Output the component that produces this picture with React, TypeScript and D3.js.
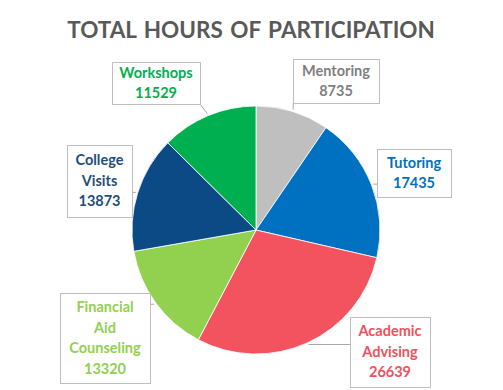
import * as d3 from "d3";
import { useEffect, useRef } from "react";

const categories = ["Mentoring", "Tutoring", "Academic Advising", "Financial Aid Counseling", "College Visits", "Workshops"];
const hours = [8735, 17435, 26639, 13320, 13873, 11529];
const labelLines = [["Mentoring"], ["Tutoring"], ["Academic", "Advising"], ["Financial", "Aid", "Counseling"], ["College", "Visits"], ["Workshops"]];
const sliceColors = ["#bfbfbf", "#0070c0", "#f2535f", "#92d050", "#0c4a86", "#00b050"];
const textColors = ["#7f7f7f", "#0070c0", "#f0505c", "#92d050", "#1f4e79", "#00b050"];

// label box placement (x, y, w, h) by slice index
const boxes = [
  { x: 293, y: 59, w: 86, h: 44 },
  { x: 377, y: 149, w: 74, h: 48 },
  { x: 350, y: 317, w: 80, h: 70 },
  { x: 60, y: 293, w: 90, h: 90 },
  { x: 67, y: 145, w: 65, h: 72 },
  { x: 112, y: 62, w: 88, h: 42 }
];

export default function App() {
  const ref = useRef<SVGSVGElement | null>(null);

  useEffect(() => {
    if (!ref.current) return;
    const width = 503;
    const height = 390;
    const cx = 256;
    const cy = 230;
    const radius = 124;
    const svg = d3.select(ref.current);
    svg.selectAll("*").remove();
    svg.attr("viewBox", `0 0 ${width} ${height}`);

    svg.append("rect").attr("width", width).attr("height", height).attr("fill", "#fff");

    svg
      .append("text")
      .attr("x", 251)
      .attr("y", 38)
      .attr("text-anchor", "middle")
      .attr("font-family", "Lato, 'Open Sans', sans-serif")
      .attr("font-weight", "bold")
      .attr("font-size", 22.5)
      .attr("word-spacing", 2)
      .attr("fill", "#595959")
      .text("TOTAL HOURS OF PARTICIPATION");

    const pie = d3.pie<number>().sort(null).value((d) => d);
    const arcs = pie(hours);
    const arc = d3.arc<d3.PieArcDatum<number>>().innerRadius(0).outerRadius(radius);
    const root = svg.append("g").attr("transform", `translate(${cx}, ${cy})`);

    root
      .selectAll("path")
      .data(arcs)
      .join("path")
      .attr("d", arc)
      .attr("fill", (_, i) => sliceColors[i])
      .attr("stroke", "#fff")
      .attr("stroke-width", 0.8);

    // leader lines
    arcs.forEach((a, i) => {
      const mid = (a.startAngle + a.endAngle) / 2;
      const px = cx + Math.sin(mid) * (radius + 2);
      const py = cy - Math.cos(mid) * (radius + 2);
      const b = boxes[i];
      const bx = Math.max(b.x, Math.min(b.x + b.w, px));
      const by = Math.max(b.y, Math.min(b.y + b.h, py));
      svg
        .append("line")
        .attr("x1", px)
        .attr("y1", py)
        .attr("x2", bx)
        .attr("y2", by)
        .attr("stroke", "#a6a6a6")
        .attr("stroke-width", 1);
    });

    categories.forEach((name, i) => {
      const b = boxes[i];
      const g = svg.append("g").attr("aria-label", name);
      g.append("rect")
        .attr("x", b.x + 0.5)
        .attr("y", b.y + 0.5)
        .attr("width", b.w)
        .attr("height", b.h)
        .attr("fill", "#fff")
        .attr("stroke", "#bfbfbf");
      const lines = [...labelLines[i], String(hours[i])];
      const lh = 20.5;
      const top = b.y + b.h / 2 - (lines.length * lh) / 2;
      lines.forEach((ln, j) => {
        g.append("text")
          .attr("x", b.x + b.w / 2)
          .attr("y", top + j * lh + 15)
          .attr("text-anchor", "middle")
          .attr("font-family", "Lato, 'Open Sans', sans-serif")
          .attr("font-weight", "bold")
          .attr("font-size", 14.5)
          .attr("fill", textColors[i])
          .text(ln);
      });
    });
  }, []);

  return (
    <svg
      ref={ref}
      width={503}
      height={390}
      style={{ position: "absolute", left: 0, top: 0, display: "block" }}
      aria-label="total hours of participation pie chart"
    />
  );
}
